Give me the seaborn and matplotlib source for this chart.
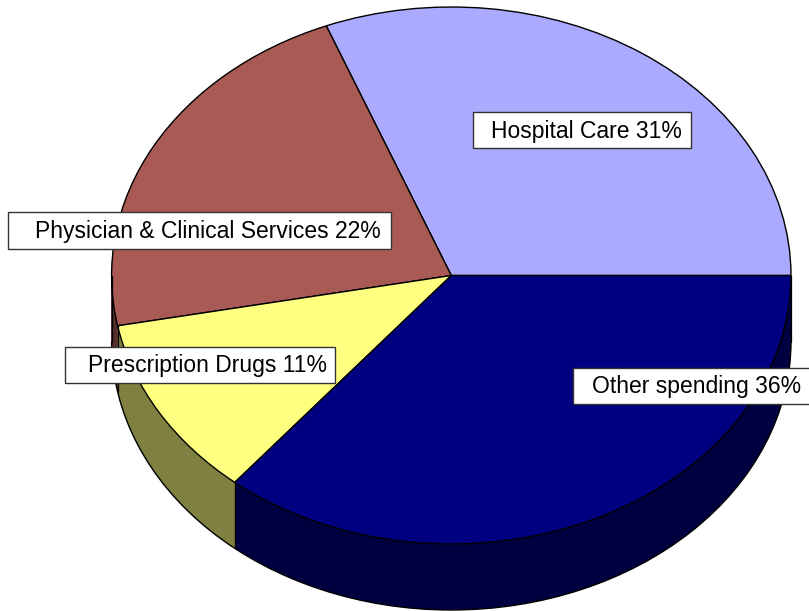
import numpy as np
import matplotlib
matplotlib.use("Agg")
import matplotlib.pyplot as plt
from matplotlib.patches import Arc, Rectangle
import seaborn as sns

categories = ['Hospital Care', 'Physician & Clinical Services', 'Prescription Drugs', 'Other spending']
shares = [31, 22, 11, 36]
top_colors = ['#AAAAFF', '#A95A55', '#FFFF80', '#000080']
side_colors = ['#555580', '#552D2B', '#808040', '#000040']

sns.set_theme(style='white')
plt.rcParams['font.family'] = ['Liberation Sans', 'DejaVu Sans']

W, H = 809, 611
cx, cy = 451.3, 275.5      # pie centre, pixels from top-left
rx, ry = 339.7, 268.5      # ellipse radii in pixels
depth_px = 66
depth = depth_px / ry

# label boxes in pixels: left, top, right, bottom, text centre x, baseline y
boxes = [(472.7, 111.7, 690.7, 148.3, 586.2, 137.7),
         (8.3, 212.3, 391.0, 249.0, 208.3, 237.7),
         (65.0, 347.3, 335.0, 383.3, 207.2, 372.3),
         (572.7, 368.3, 815.0, 404.0, 696.2, 392.7)]

fig = plt.figure(figsize=(W / 100, H / 100), dpi=100)
ax = fig.add_axes([0, 0, 1, 1])

# side walls: stack of darker pies pushed down
for d in np.linspace(depth, 0, depth_px + 1)[:-1]:
    ax.pie(shares, colors=side_colors, startangle=0, counterclock=True,
           center=(0, -d), wedgeprops=dict(linewidth=0))

ax.add_patch(Arc((0, -depth), 2, 2, theta1=180, theta2=360, color='black', lw=1))

edges = np.cumsum([0] + shares) / sum(shares) * 360
for a in sorted(set(list(edges) + [180])):
    if 180 <= a <= 360:
        x, y = np.cos(np.radians(a)), np.sin(np.radians(a))
        ax.plot([x, x], [y, y - depth], color='black', lw=0.9)

# top face
ax.pie(shares, colors=top_colors, startangle=0, counterclock=True,
       wedgeprops=dict(edgecolor='black', linewidth=1))

ax.set_aspect('auto')
ax.set_xlim(-cx / rx, (W - cx) / rx)
ax.set_ylim(-(H - cy) / ry, cy / ry)
ax.axis('off')

for cat, val, (x0, y0, x1, y1, tx, ty) in zip(categories, shares, boxes):
    ax.add_patch(Rectangle((x0 / W, 1 - y1 / H), (x1 - x0) / W, (y1 - y0) / H,
                           transform=fig.transFigure, facecolor='white',
                           edgecolor='#333333', lw=1, zorder=5, clip_on=False))
    fig.text(tx / W, 1 - ty / H, f'{cat} {val}%', ha='center', va='baseline',
             fontsize=16.5, color='black', zorder=6)

fig.savefig('out.png', dpi=100, facecolor='white')
